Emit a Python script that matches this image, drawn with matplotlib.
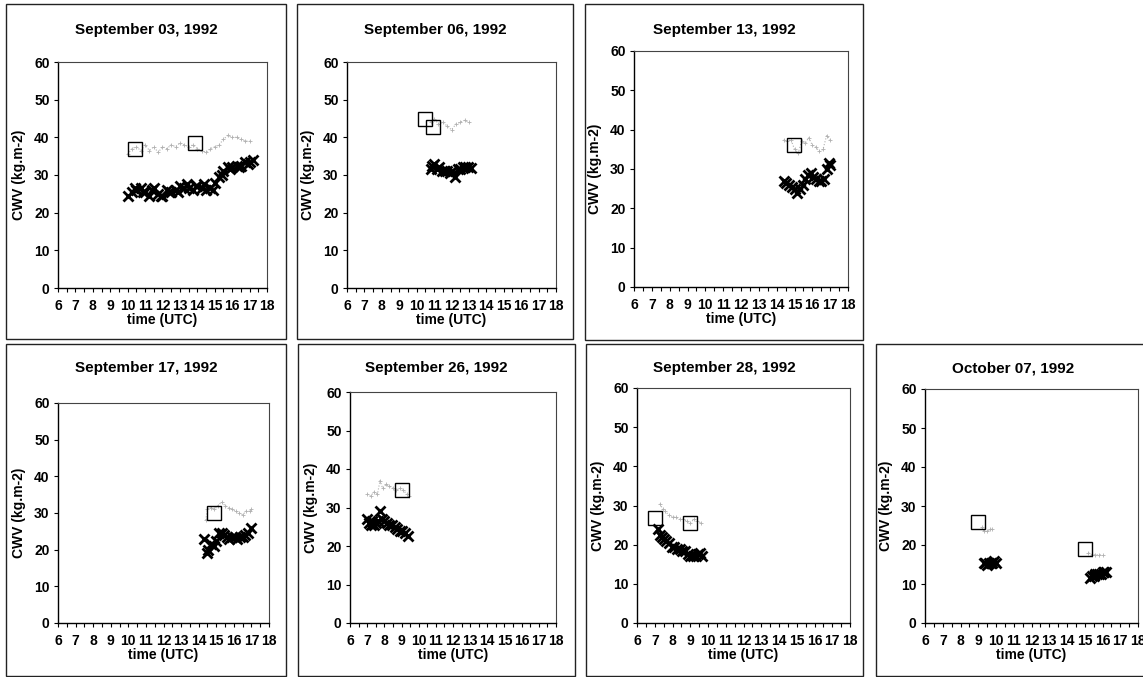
import numpy as np
import matplotlib
matplotlib.use("Agg")
import matplotlib.pyplot as plt
from matplotlib.patches import Rectangle

plt.rcParams['font.family'] = ['Liberation Sans', 'DejaVu Sans']
plt.rcParams['font.weight'] = 'bold'

nan = np.nan

# data: gray trail (+), black crosses (x), open squares
titles = ["September 03, 1992", "September 06, 1992", "September 13, 1992",
          "September 17, 1992", "September 26, 1992", "September 28, 1992",
          "October 07, 1992"]

# September 03
sep03_gray_t = [10.0, 10.25, 10.5, 10.75, 11.0, 11.25, 11.5, 11.75, 12.0, 12.25, 12.5, 12.75, 13.0, 13.25,
                13.5, 13.75, 14.0, 14.25, 14.5, 14.75, 15.0, 15.25, 15.5, 15.75, 16.0, 16.25, 16.5, 16.75, 17.0]
sep03_gray_v = [35.5, 37, 37.5, 36.5, 38, 36.5, 37.5, 36, 37.5, 37, 38, 37.5, 38.5, 38,
                37.5, 38, 37, 36.5, 36, 37, 37.5, 38, 39.5, 40.5, 40, 40, 39.5, 39, 39]
sep03_black_t = [10.0, 10.25, 10.4, 10.5, 10.75, 10.9, 11.0, 11.25, 11.4, 11.5, 11.75, 11.9, 12.0, 12.25,
                 12.4, 12.5, 12.75, 12.9, 13.0, 13.25, 13.4, 13.5, 13.75, 13.9, 14.0, 14.25, 14.4, 14.5,
                 14.75, 14.9, 15.0, 15.25, 15.4, 15.5, 15.75, 15.9, 16.0, 16.25, 16.4, 16.5, 16.75, 16.9,
                 17.0, 17.2]
sep03_black_v = [24.5, 25.5, 26.5, 26, 26.5, 25.5, 25.5, 24.5, 26, 26.5, 25, 24.5, 24.5, 26,
                 25.5, 25.5, 26, 25.5, 27, 26.5, 27.5, 26.5, 26, 27, 27, 26.5, 27.5, 26,
                 26.5, 26, 28, 29.5, 30, 31, 32, 31.5, 32, 32.5, 32, 32.5, 33.5, 33, 33.5, 34]
sep03_box_t = [10.4, 13.85]
sep03_box_v = [36.8, 38.5]

# September 06
sep06_gray_t = [10.8, 11.0, 11.25, 11.5, 11.75, 12.0, 12.25, 12.5, 12.75, 13.0]
sep06_gray_v = [44, 45, 43.5, 44, 43, 42, 43.5, 44, 44.5, 44]
sep06_black_t = [10.8, 10.9, 11.0, 11.15, 11.3, 11.45, 11.6, 11.75, 11.9, 12.05, 12.2, 12.35,
                 12.5, 12.65, 12.8, 12.95, 13.1]
sep06_black_v = [31.5, 32.5, 33, 31.5, 32, 31, 31, 31, 30.5, 31, 29.5, 31.5,
                 31.5, 32, 32, 32, 31.8]
sep06_box_t = [10.5, 10.95]
sep06_box_v = [45, 42.7]

# September 13
sep13_gray_t = [14.4, 14.6, 14.8, 15.0, 15.2, 15.4, 15.6, 15.8, 16.0, 16.2, 16.4, 16.6, 16.8, 17.0]
sep13_gray_v = [37.5, 37, 37.5, 35, 34, 37, 36.5, 38, 36, 35.5, 34.5, 35, 38.5, 37.5]
sep13_black_t = [14.4, 14.55, 14.7, 14.85, 15.0, 15.15, 15.3, 15.45, 15.6, 15.75, 15.9, 16.05,
                 16.2, 16.35, 16.5, 16.65, 16.8, 16.95, 17.0]
sep13_black_v = [27, 26.5, 26, 25.5, 25, 24, 25, 26, 27.5, 28.5, 29, 28,
                 27.5, 27, 27, 27.5, 30, 31.5, 31]
sep13_box_t = [14.95]
sep13_box_v = [36]

# September 17
sep17_gray_t = [14.4, 14.5, 14.7, 14.9, 15.1, 15.3, 15.5, 15.7, 15.9, 16.1, 16.3, 16.5, 16.7, 16.9, 17.0]
sep17_gray_v = [28, 31, 31.5, 31, 32, 33, 32, 31.5, 31, 30.5, 30, 29.5, 30.5, 30.5, 31]
sep17_black_t = [14.3, 14.45, 14.55, 14.7, 14.85, 15.0, 15.15, 15.3, 15.45, 15.6, 15.75, 15.9,
                 16.05, 16.2, 16.35, 16.5, 16.65, 16.8, 16.95]
sep17_black_v = [23, 19, 20, 21.5, 21, 22.5, 24.5, 24.5, 24, 23.5, 23, 23.5,
                 23.5, 23, 23.5, 23.5, 24, 24.5, 26]
sep17_box_t = [14.9]
sep17_box_v = [30]

# September 26
sep26_gray_t = [7.0, 7.2, 7.4, 7.6, 7.75, 7.9, 8.1, 8.3, 8.5, 8.7, 8.9, 9.1, 9.3, 9.45]
sep26_gray_v = [33.5, 33, 34, 33.5, 37, 35, 36, 35.5, 35, 34.5, 35, 34.5, 33.5, 33]
sep26_black_t = [7.0, 7.1, 7.2, 7.3, 7.4, 7.5, 7.65, 7.75, 7.85, 8.0, 8.15, 8.3, 8.45, 8.6,
                 8.75, 8.9, 9.05, 9.2, 9.35]
sep26_black_v = [27, 26, 25.5, 26.5, 25.5, 26, 26.5, 29, 27, 26.5, 26, 25.5, 25.5, 25,
                 24.5, 24, 24, 23.5, 22.5]
sep26_box_t = [9.0]
sep26_box_v = [34.5]

# September 28
sep28_gray_t = [7.3, 7.45, 7.6, 7.8, 8.0, 8.2, 8.4, 8.6, 8.8, 9.0, 9.2, 9.4, 9.6]
sep28_gray_v = [30.5, 29, 28.5, 27.5, 27, 27, 26.5, 26.5, 26, 25.5, 26.5, 26, 25.5]
sep28_black_t = [7.2, 7.3, 7.4, 7.5, 7.65, 7.8, 7.95, 8.1, 8.25, 8.4, 8.55, 8.7, 8.85, 9.0,
                 9.15, 9.3, 9.45, 9.55, 9.65]
sep28_black_v = [24, 22.5, 22, 21.5, 21, 20.5, 19.5, 19.5, 19, 19, 18.5, 18.5, 17.5, 17,
                 17, 17, 17.5, 18, 17]
sep28_box_t = [7.0, 9.0]
sep28_box_v = [26.8, 25.6]

# October 07 (two separate passes)
oct07_gray_t = [9.2, 9.35, 9.5, 9.65, 9.8, 12.0, 15.2, 15.4, 15.6, 15.8, 16.0]
oct07_gray_v = [24.5, 23.5, 23.5, 24, 24, nan, 18, 17.5, 17.5, 17.5, 17.5]
oct07_black_t = [9.3, 9.4, 9.5, 9.6, 9.7, 9.8, 9.9, 10.0,
                 15.3, 15.4, 15.5, 15.6, 15.7, 15.8, 15.9, 16.0, 16.1, 16.2]
oct07_black_v = [15.5, 15.5, 15, 15.5, 15.5, 15.5, 16, 15.5,
                 11.5, 12, 12, 12.5, 12.5, 12.5, 12.5, 13, 13, 13]
oct07_box_t = [9.0, 15.0]
oct07_box_v = [26, 19]

panels = [
    (sep03_gray_t, sep03_gray_v, sep03_black_t, sep03_black_v, sep03_box_t, sep03_box_v),
    (sep06_gray_t, sep06_gray_v, sep06_black_t, sep06_black_v, sep06_box_t, sep06_box_v),
    (sep13_gray_t, sep13_gray_v, sep13_black_t, sep13_black_v, sep13_box_t, sep13_box_v),
    (sep17_gray_t, sep17_gray_v, sep17_black_t, sep17_black_v, sep17_box_t, sep17_box_v),
    (sep26_gray_t, sep26_gray_v, sep26_black_t, sep26_black_v, sep26_box_t, sep26_box_v),
    (sep28_gray_t, sep28_gray_v, sep28_black_t, sep28_black_v, sep28_box_t, sep28_box_v),
    (oct07_gray_t, oct07_gray_v, oct07_black_t, oct07_black_v, oct07_box_t, oct07_box_v),
]

# pixel layout: frame (x0, x1, y0, y1), axes (x0, x1, y0, y1), title y
W, H = 1143, 677
layout = [
    ((6, 286, 4, 339), (58, 267, 62, 288), 30),
    ((297, 573, 4, 339), (347, 556, 62, 288), 30),
    ((585, 863, 4, 340), (634, 848, 51, 287), 30),
    ((6, 286, 344, 676), (58, 269, 403, 623), 368),
    ((298, 575, 344, 676), (350, 556, 392, 623), 368),
    ((586, 863, 344, 676), (637, 850, 388, 623), 368),
    ((876, 1150, 344, 676), (925, 1138, 389, 623), 368),
]

fig = plt.figure(figsize=(W / 100, H / 100), dpi=100)

for title, data, (frame, box, ty) in zip(titles, panels, layout):
    gt, gv, bt, bv, st, sv = data
    fx0, fx1, fy0, fy1 = frame
    fig.add_artist(Rectangle((fx0 / W, 1 - fy1 / H), (fx1 - fx0) / W, (fy1 - fy0) / H,
                             transform=fig.transFigure, fill=False, lw=1.0, ec='#222222'))
    fig.text((fx0 + fx1) / 2 / W, 1 - ty / H, title, ha='center', va='center',
             fontsize=11, fontweight='bold')

    ax0, ax1, ay0, ay1 = box
    ax = fig.add_axes([ax0 / W, 1 - ay1 / H, (ax1 - ax0) / W, (ay1 - ay0) / H])
    ax.plot(gt, gv, ls=':', lw=0.8, color='#b0b0b0', marker='+', ms=3.5, mew=0.6)
    ax.plot(bt, bv, ls='none', marker='x', ms=6.5, mew=2.0, color='black')
    ax.plot(st, sv, ls='none', marker='s', ms=9.5, mfc='none', mec='black', mew=1.0)

    ax.set_xlim(6, 18)
    ax.set_ylim(0, 60)
    ax.set_xticks(range(6, 19))
    ax.set_xticks(np.arange(6, 18.5, 0.5), minor=True)
    ax.set_yticks(range(0, 61, 10))
    ax.tick_params(axis='both', which='both', direction='out', length=3, width=0.8,
                   labelsize=10, pad=3)
    ax.tick_params(axis='x', which='major', pad=5)
    for lab in ax.get_xticklabels() + ax.get_yticklabels():
        lab.set_fontweight('bold')
    for side in ['top', 'right']:
        ax.spines[side].set_color('#444444')
        ax.spines[side].set_linewidth(0.8)
    for side in ['left', 'bottom']:
        ax.spines[side].set_linewidth(1.0)
    ax.set_xlabel("time (UTC)", fontsize=10, fontweight='bold', labelpad=0)
    ax.set_ylabel("CWV (kg.m-2)", fontsize=10, fontweight='bold', labelpad=6)

fig.savefig("out.png", dpi=100)
